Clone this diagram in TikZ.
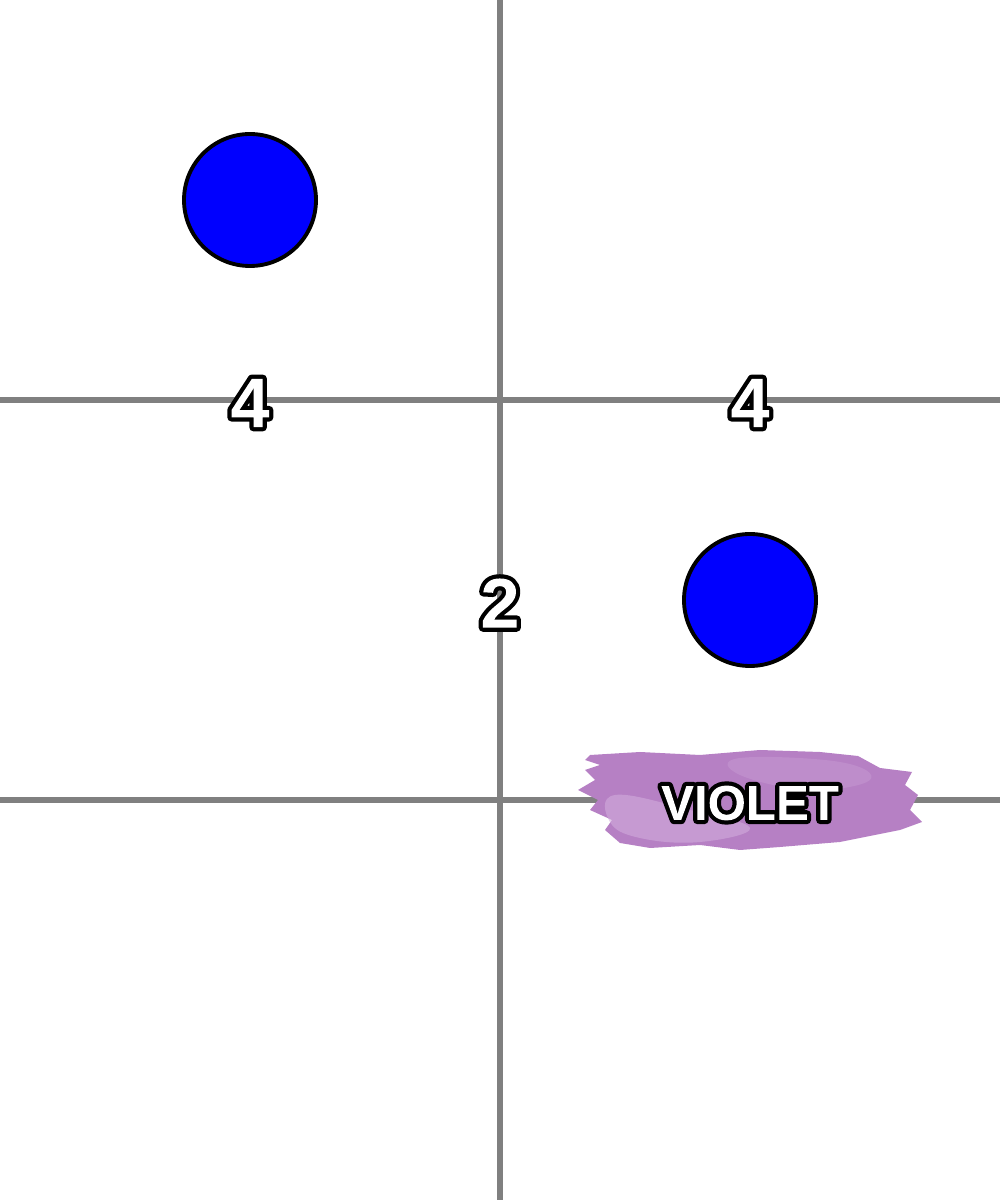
\documentclass[tikz,border=0pt]{standalone}
\usepackage{fontspec}
\setmainfont{Liberation Sans}
\usepackage{tikz}
\usetikzlibrary{positioning}

\definecolor{gridgray}{RGB}{128,128,128}
\definecolor{dotblue}{RGB}{0,0,255}
\definecolor{brushdark}{RGB}{182,128,196}
\definecolor{brushlight}{RGB}{210,172,220}

% white letters with a black rim: stroke the glyphs, clip to them, paint white inside
\newcommand{\rimtext}[1]{%
    \special{pdf:literal direct q 5 Tr 2.4 w 1 j 0 G}#1%
    \special{pdf:literal direct 1 g -3000 -3000 6000 6000 re f Q}}

\tikzset{
    gridline/.style={gridgray, line width=1.8pt},
    dot/.style={circle, draw=black, line width=1.1pt, fill=dotblue, minimum size=1.32cm, inner sep=0pt},
    numlabel/.style={font=\fontsize{20}{22}\selectfont\bfseries, inner sep=0pt},
    brushlabel/.style={font=\fontsize{14}{16}\selectfont\bfseries, inner sep=0pt}
}

\begin{document}
\begin{tikzpicture}
    \useasboundingbox (0,0) rectangle (10,12);

    % Grid
    \coordinate (top) at (5,12);
    \coordinate (bottom) at (5,0);
    \coordinate (upleft) at (0,8);
    \coordinate (upright) at (10,8);
    \coordinate (lowleft) at (0,4);
    \coordinate (lowright) at (10,4);
    \draw[gridline] (top) -- (bottom);
    \draw[gridline] (upleft) -- (upright);
    \draw[gridline] (lowleft) -- (lowright);

    % Dots
    \node[dot] (dotA) at (2.5,10) {};
    \node[dot] (dotB) at (7.5,6) {};

    % Brush stroke
    \fill[brushdark]
        plot coordinates {(5.90,4.45) (6.40,4.48) (7.00,4.45) (7.60,4.50) (8.20,4.48)
        (8.58,4.44) (8.80,4.32) (9.12,4.28) (9.05,4.15) (9.18,4.05) (9.10,3.90)
        (9.22,3.78) (9.00,3.70) (8.70,3.64) (8.40,3.58) (7.80,3.53) (7.40,3.50)
        (7.00,3.55) (6.50,3.52) (6.20,3.57) (6.05,3.70) (6.12,3.80) (5.90,3.90)
        (5.98,4.00) (5.78,4.10) (5.95,4.20) (5.85,4.30) (6.00,4.35) (5.85,4.40)}
        -- cycle;
    \fill[brushlight, opacity=0.6]
        plot[smooth cycle, tension=0.7] coordinates {(6.15,4.05) (6.90,3.90)
        (7.50,3.72) (7.00,3.58) (6.40,3.62) (6.10,3.78)};
    \fill[brushlight, opacity=0.3]
        plot[smooth cycle, tension=0.7] coordinates {(7.40,4.42) (8.40,4.38)
        (8.70,4.20) (8.10,4.10) (7.40,4.25)};

    % Labels
    \node[numlabel] (labA) at (2.5,7.97) {\rimtext{4}};
    \node[numlabel] (labB) at (7.5,7.97) {\rimtext{4}};
    \node[numlabel] (labC) at (5,5.97) {\rimtext{2}};
    \node[brushlabel] (violet) at (7.5,3.97) {\rimtext{VIOLET}};
\end{tikzpicture}
\end{document}
